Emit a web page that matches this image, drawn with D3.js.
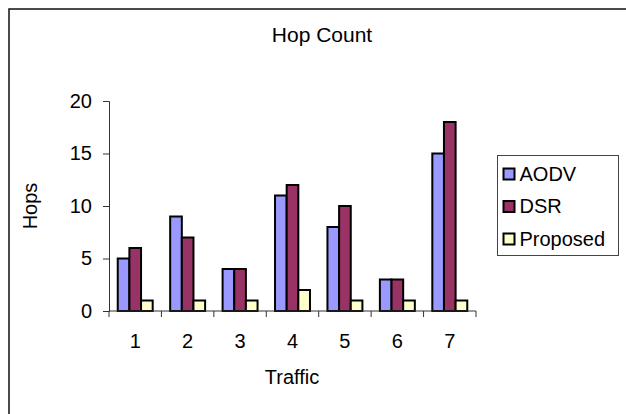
<!DOCTYPE html>
<html>
<head>
<meta charset="utf-8">
<script src="https://cdn.jsdelivr.net/npm/d3@7"></script>
<style>
  html, body { margin: 0; padding: 0; background: #fff; }
  svg { display: block; }
  text { font-family: "Liberation Sans", Arial, sans-serif; fill: #000; }
</style>
</head>
<body>
<svg id="chart" width="626" height="414"></svg>
<script>
// Hop count per traffic scenario for three routing protocols
const categories = ["1", "2", "3", "4", "5", "6", "7"];
const seriesNames = ["AODV", "DSR", "Proposed"];
const aodv = [5, 9, 4, 11, 8, 3, 15];
const dsr = [6, 7, 4, 12, 10, 3, 18];
const proposed = [1, 1, 1, 2, 1, 1, 1];
const yTicks = [0, 5, 10, 15, 20];
const colors = ["#9999FF", "#993366", "#FFFFCC"];

const seriesValues = [aodv, dsr, proposed];
const FS = "20px";

const svg = d3.select("#chart");

// Chart-area frame (right and bottom edges run off the canvas)
svg.append("rect")
  .attr("x", 9).attr("y", 9)
  .attr("width", 700).attr("height", 500)
  .attr("fill", "none")
  .attr("stroke", "#111")
  .attr("stroke-width", 1.5);

const plot = { left: 109, right: 476, top: 101, bottom: 311 };

const x = d3.scaleBand()
  .domain(categories)
  .range([plot.left, plot.right])
  .padding(0);

// Gap between clusters is 150% of a bar width
const bw = x.bandwidth();
const edge = bw * 0.75 / 4.5;
const xs = d3.scaleBand()
  .domain(seriesNames)
  .range([edge, bw - edge])
  .padding(0);

const y = d3.scaleLinear()
  .domain([0, 20])
  .range([plot.bottom, plot.top]);

// Bars
const groups = svg.append("g")
  .selectAll("g")
  .data(categories)
  .join("g")
  .attr("transform", d => `translate(${x(d)},0)`);

groups.selectAll("rect")
  .data((c, i) => seriesNames.map((s, k) => ({ s, k, v: seriesValues[k][i] })))
  .join("rect")
  .attr("x", d => xs(d.s))
  .attr("y", d => y(d.v))
  .attr("width", xs.bandwidth())
  .attr("height", d => y(0) - y(d.v))
  .attr("fill", d => colors[d.k])
  .attr("stroke", "#000")
  .attr("stroke-width", 2);

// Y axis
const yAxis = d3.axisLeft(y)
  .tickValues(yTicks)
  .tickSize(6)
  .tickPadding(11);
const gy = svg.append("g")
  .attr("transform", `translate(${plot.left},0)`)
  .call(yAxis);
gy.select(".domain").attr("stroke", "#333");
gy.selectAll(".tick line").attr("stroke", "#333");
gy.selectAll(".tick text")
  .style("font-size", FS)
  .style("font-family", "'Liberation Sans', Arial, sans-serif");

// X axis: ticks sit on the category boundaries
const gx = svg.append("g")
  .attr("transform", `translate(0,${plot.bottom})`);
gx.append("line")
  .attr("x1", plot.left).attr("x2", plot.right)
  .attr("stroke", "#333");
const bounds = categories.map(c => x(c)).concat([plot.right]);
gx.selectAll("line.tk")
  .data(bounds)
  .join("line")
  .attr("class", "tk")
  .attr("x1", d => d).attr("x2", d => d)
  .attr("y1", 0).attr("y2", 6)
  .attr("stroke", "#333");
gx.selectAll("text")
  .data(categories)
  .join("text")
  .attr("x", d => x(d) + bw / 2)
  .attr("y", 37)
  .attr("text-anchor", "middle")
  .style("font-size", FS)
  .text(d => d);

// Titles
svg.append("text")
  .attr("x", 322).attr("y", 42)
  .attr("text-anchor", "middle")
  .style("font-size", "21px")
  .text("Hop Count");

svg.append("text")
  .attr("x", 292).attr("y", 384)
  .attr("text-anchor", "middle")
  .style("font-size", FS)
  .text("Traffic");

svg.append("text")
  .attr("transform", `translate(37,${(plot.top + plot.bottom) / 2}) rotate(-90)`)
  .attr("text-anchor", "middle")
  .style("font-size", FS)
  .text("Hops");

// Legend
const legend = svg.append("g").attr("transform", "translate(497.5,155.5)");
legend.append("rect")
  .attr("width", 121).attr("height", 100)
  .attr("fill", "#fff")
  .attr("stroke", "#444")
  .attr("stroke-width", 1);
const items = legend.selectAll("g")
  .data(seriesNames)
  .join("g")
  .attr("transform", (d, i) => `translate(6,${18 + i * 32.5})`);
items.append("rect")
  .attr("x", 0).attr("y", -5)
  .attr("width", 11).attr("height", 11)
  .attr("fill", (d, i) => colors[i])
  .attr("stroke", "#000")
  .attr("stroke-width", 2);
items.append("text")
  .attr("x", 16).attr("y", 7)
  .style("font-size", FS)
  .text(d => d);
</script>
</body>
</html>
